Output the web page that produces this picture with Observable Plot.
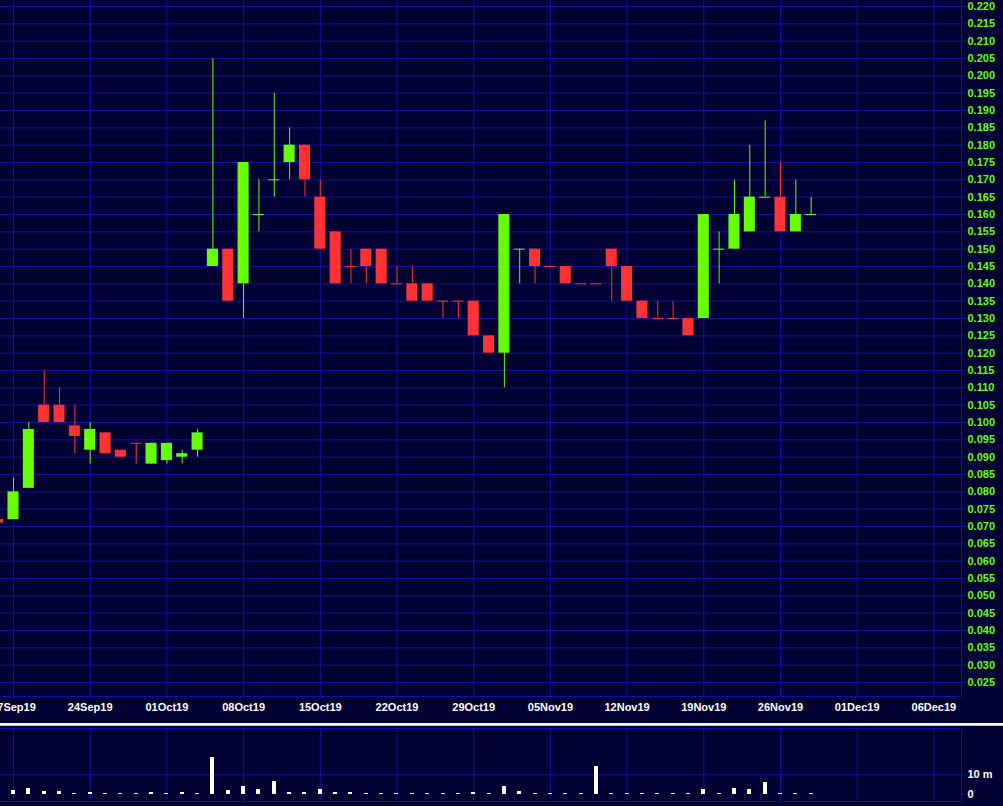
<!DOCTYPE html>
<html>
<head>
<meta charset="utf-8">
<script src="https://cdn.jsdelivr.net/npm/d3@7"></script>
<script src="https://cdn.jsdelivr.net/npm/@observablehq/plot@0.6"></script>
<style>
  html, body { margin: 0; padding: 0; background: #000033; overflow: hidden; }
  #chart { width: 1003px; height: 806px; position: relative; background: #000033; }
  #chart svg { display: block; }
  .sep { height: 3px; background: linear-gradient(#ffffff, #ffffff 60%, #9a9a9a); }
</style>
</head>
<body>
<div id="chart"></div>
<script>
// ---- data (one entry per trading day, starting Mon 16 Sep 2019) ----
const dates = [
  "16Sep19","17Sep19","18Sep19","19Sep19","20Sep19","23Sep19","24Sep19","25Sep19","26Sep19","27Sep19","30Sep19",
  "01Oct19","02Oct19","03Oct19","04Oct19","07Oct19","08Oct19","09Oct19","10Oct19","11Oct19","14Oct19","15Oct19",
  "16Oct19","17Oct19","18Oct19","21Oct19","22Oct19","23Oct19","24Oct19","25Oct19","28Oct19","29Oct19","30Oct19","31Oct19",
  "01Nov19","04Nov19","05Nov19","06Nov19","07Nov19","08Nov19","11Nov19","12Nov19","13Nov19","14Nov19","15Nov19",
  "18Nov19","19Nov19","20Nov19","21Nov19","22Nov19","25Nov19","26Nov19","27Nov19","28Nov19"
];
const open = [
  0.072,0.072,0.081,0.105,0.105,0.099,0.092,0.097,0.092,0.094,0.088,
  0.089,0.090,0.092,0.145,0.150,0.140,0.160,0.170,0.175,0.180,0.165,
  0.155,0.145,0.150,0.150,0.140,0.140,0.140,0.135,0.135,0.135,0.125,0.120,
  0.150,0.150,0.145,0.145,0.140,0.140,0.150,0.145,0.135,0.130,0.130,
  0.130,0.130,0.150,0.150,0.155,0.165,0.165,0.155,0.160
];
const high = [
  0.072,0.084,0.100,0.115,0.110,0.105,0.100,0.097,0.092,0.094,0.094,
  0.094,0.092,0.098,0.205,0.150,0.175,0.170,0.195,0.185,0.180,0.170,
  0.155,0.150,0.150,0.150,0.145,0.145,0.140,0.135,0.135,0.135,0.125,0.160,
  0.150,0.150,0.145,0.145,0.140,0.140,0.150,0.145,0.135,0.135,0.135,
  0.130,0.160,0.155,0.170,0.180,0.187,0.175,0.170,0.165
];
const low = [
  0.071,0.072,0.081,0.100,0.100,0.091,0.088,0.091,0.090,0.088,0.088,
  0.088,0.088,0.090,0.145,0.135,0.130,0.155,0.165,0.170,0.165,0.150,
  0.140,0.140,0.140,0.140,0.140,0.135,0.135,0.130,0.130,0.125,0.120,0.110,
  0.140,0.140,0.145,0.140,0.140,0.140,0.135,0.135,0.130,0.130,0.130,
  0.125,0.130,0.140,0.150,0.155,0.165,0.155,0.155,0.160
];
const close = [
  0.071,0.080,0.098,0.100,0.100,0.096,0.098,0.091,0.090,0.094,0.094,
  0.094,0.091,0.097,0.150,0.135,0.175,0.160,0.170,0.180,0.170,0.150,
  0.140,0.145,0.145,0.140,0.140,0.135,0.135,0.135,0.135,0.125,0.120,0.160,
  0.150,0.145,0.145,0.140,0.140,0.140,0.145,0.135,0.130,0.130,0.130,
  0.125,0.160,0.150,0.160,0.165,0.165,0.155,0.160,0.160
];
// 1 = rising (green), 0 = falling (red)
const up = [
  0,1,1,0,0,0,1,0,0,0,1,
  1,1,1,1,0,1,1,1,1,0,0,
  0,0,0,0,0,0,0,0,0,0,0,1,
  1,0,0,0,0,0,0,0,0,0,0,
  0,1,1,1,1,1,0,1,1
];
// volume in millions
const volume = [
  0.5,1.9,2.9,1.4,1.4,0.5,1.0,0.3,0.3,0.5,1.0,
  0.5,1.0,0.5,19.1,1.9,4.0,2.4,6.6,1.0,1.0,2.4,
  1.0,1.0,0.5,0.5,0.5,0.5,0.5,0.5,0.5,1.0,0.5,4.1,
  1.5,0.5,0.5,0.5,0.3,14.5,0.3,0.5,0.5,0.5,0.3,
  0.5,2.2,0.5,3.1,2.2,5.9,0.5,0.5,0.3
];
// x-axis tick labels (weekly) and their slot positions
const tickSlots = [1, 6, 11, 16, 21, 26, 31, 36, 41, 46, 51, 56, 61];
const tickLabels = ["17Sep19","24Sep19","01Oct19","08Oct19","15Oct19","22Oct19","29Oct19",
                    "05Nov19","12Nov19","19Nov19","26Nov19","01Dec19","06Dec19"];
const priceTicks = [0.025,0.030,0.035,0.040,0.045,0.050,0.055,0.060,0.065,0.070,0.075,0.080,
  0.085,0.090,0.095,0.100,0.105,0.110,0.115,0.120,0.125,0.130,0.135,0.140,0.145,0.150,0.155,
  0.160,0.165,0.170,0.175,0.180,0.185,0.190,0.195,0.200,0.205,0.210,0.215,0.220];
const volumeTicks = [0, 10];
const volumeTickLabels = ["0", "10 m"];

// ---- build ----
const GREEN = "#66ff00", RED = "#ff3333", GRID = "#1010a8", BG = "#000033";
const candles = dates.map((d, i) => ({
  i, date: d, open: open[i], high: high[i], low: low[i], close: close[i],
  color: up[i] ? GREEN : RED, vol: volume[i]
}));
const bodies = candles.filter(d => d.open !== d.close);
const dojis = candles.filter(d => d.open === d.close);
const xDomain = [0.153, 62.8];
const yDomain = [0.02096, 0.22173];
const vDomain = [-3.76, 33.87];
const labelMap = new Map(tickSlots.map((s, k) => [s, tickLabels[k]]));
const vLabelMap = new Map(volumeTicks.map((s, k) => [s, volumeTickLabels[k]]));
const HALF = 0.36, VHALF = 0.13;
const style = {background: BG, color: "#ffffff", fontFamily: "'Liberation Sans', Arial, sans-serif",
               fontSize: "11px", fontWeight: "bold", overflow: "visible"};

const priceChart = Plot.plot({
  width: 1003, height: 723,
  marginLeft: 0, marginRight: 42, marginTop: 0, marginBottom: 27,
  style,
  x: {type: "linear", domain: xDomain, axis: null, label: null},
  y: {domain: yDomain, axis: null, label: null},
  color: {type: "identity"},
  marks: [
    Plot.ruleY(priceTicks, {stroke: GRID}),
    Plot.ruleX(tickSlots, {stroke: GRID}),
    Plot.ruleX([xDomain[1]], {stroke: GRID}),
    Plot.ruleY([yDomain[0]], {stroke: GRID}),
    Plot.axisY(priceTicks, {anchor: "right", label: null, tickSize: 4, tickPadding: 2, stroke: GRID, fill: GREEN,
      tickFormat: d => d.toFixed(3), fontWeight: "bold", fontSize: 11}),
    Plot.axisX(tickSlots, {anchor: "bottom", label: null, tickSize: 0, tickPadding: 7, fill: "#ffffff",
      tickFormat: d => labelMap.get(d), fontWeight: "bold", fontSize: 11}),
    Plot.ruleX(candles, {x: "i", y1: "low", y2: "high", stroke: "color"}),
    Plot.rect(bodies, {x1: d => d.i - HALF, x2: d => d.i + HALF, y1: "open", y2: "close", fill: "color"}),
    Plot.ruleY(dojis, {x1: d => d.i - HALF, x2: d => d.i + HALF, y: "open", stroke: "color"})
  ]
});

const volumeChart = Plot.plot({
  width: 1003, height: 80,
  marginLeft: 0, marginRight: 42, marginTop: 2, marginBottom: 5,
  style,
  x: {type: "linear", domain: xDomain, axis: null, label: null},
  y: {domain: vDomain, axis: null, label: null},
  marks: [
    Plot.ruleX(tickSlots, {stroke: GRID}),
    Plot.ruleY([10], {stroke: GRID}),
    Plot.ruleY([vDomain[1]], {stroke: GRID}),
    Plot.ruleY([vDomain[0]], {stroke: GRID}),
    Plot.ruleX([xDomain[1]], {stroke: GRID}),
    Plot.axisY(volumeTicks, {anchor: "right", label: null, tickSize: 4, tickPadding: 2, stroke: GRID, fill: "#ffffff",
      tickFormat: d => vLabelMap.get(d), fontWeight: "bold", fontSize: 11}),
    Plot.rectY(candles, {x1: d => d.i - VHALF, x2: d => d.i + VHALF, y1: 0, y2: "vol",
      fill: "#ffffff", shapeRendering: "crispEdges"})
  ]
});

const root = document.getElementById("chart");
root.appendChild(priceChart);
const sep = document.createElement("div");
sep.className = "sep";
root.appendChild(sep);
root.appendChild(volumeChart);
</script>
</body>
</html>
